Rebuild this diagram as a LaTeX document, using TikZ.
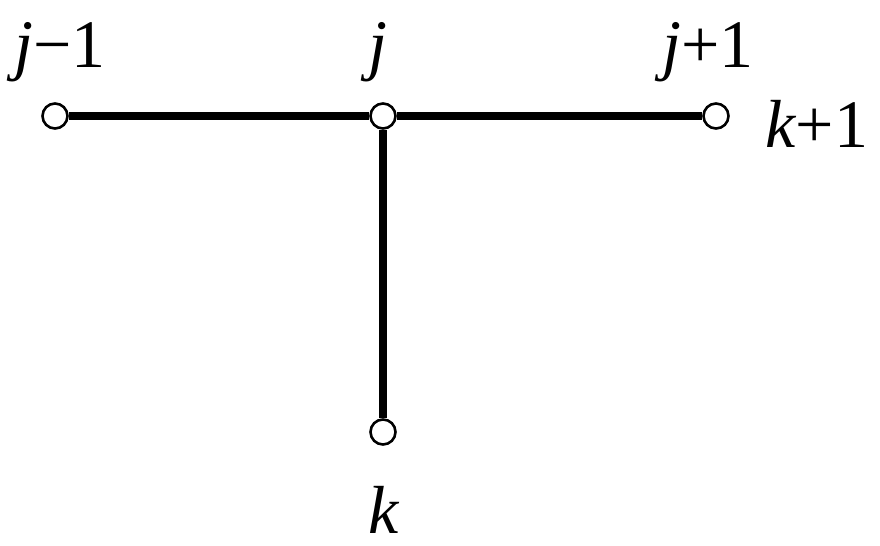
\documentclass[tikz,border=0pt]{standalone}
\usepackage{fontspec}
\setmainfont{Liberation Serif}
\newfontfamily\tnr{Liberation Serif}
\begin{document}
\begin{tikzpicture}[x=0.5pt,y=-0.5pt,
  vtx/.style={circle,draw=black,fill=white,line width=1.3pt,minimum size=12.5pt,inner sep=0pt},
  edge/.style={line width=3.6pt},
  lab/.style={anchor=base,inner sep=0pt,font=\tnr\fontsize{34}{40}\selectfont}]
\useasboundingbox (0,0) rectangle (880,546);
\node[vtx] (a) at (55,116) {};
\node[vtx] (j) at (383,116) {};
\node[vtx] (b) at (716,116) {};
\node[vtx] (k) at (383,432) {};
\draw[edge] (a) -- (j) -- (b);
\draw[edge] (j) -- (k);
\node[lab] (la) at (60,68) {\itshape j\upshape −1};
\node[lab] (lj) at (378,68) {\itshape j};
\node[lab] (lb) at (708,68) {\itshape j\upshape +1};
\node[lab] (lk1) at (817,148) {\itshape k\upshape +1};
\node[lab] (lk) at (384,533) {\itshape k};
\end{tikzpicture}
\end{document}
